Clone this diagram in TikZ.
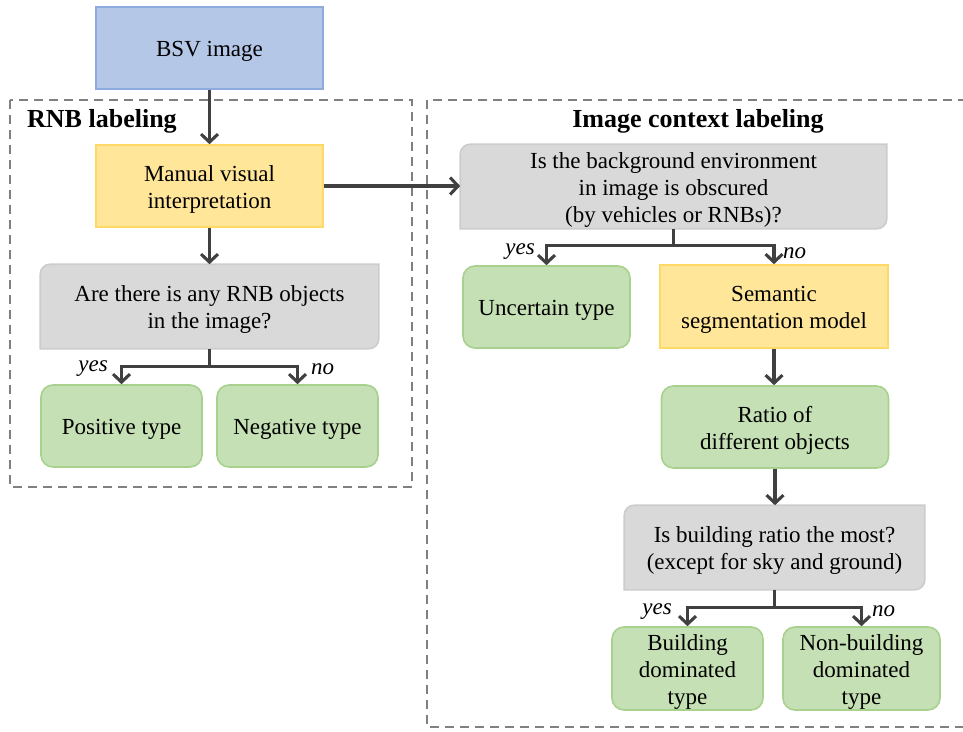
\documentclass[tikz,border=0pt]{standalone}
\usepackage{fontspec}
\setmainfont{Liberation Serif}
\usetikzlibrary{arrows.meta,backgrounds,calc}
\definecolor{bfill}{HTML}{B4C7E7}
\definecolor{bdraw}{HTML}{8FAADC}
\definecolor{yfill}{HTML}{FFE699}
\definecolor{ydraw}{HTML}{FFD966}
\definecolor{gfill}{HTML}{C5E0B4}
\definecolor{gdraw}{HTML}{A9D18E}
\definecolor{qfill}{HTML}{D9D9D9}
\definecolor{qdraw}{HTML}{CCCCCC}
\definecolor{cline}{HTML}{404040}
\definecolor{dline}{HTML}{808080}
\newcommand\graycard[1]{%
  \begin{pgfonlayer}{background}
    \draw[qshape] (#1.south west) -- ([yshift=-10pt]#1.north west)
      arc[start angle=180,end angle=90,radius=10pt] -- (#1.north east)
      -- ([yshift=10pt]#1.south east)
      arc[start angle=0,end angle=-90,radius=10pt] -- cycle;
  \end{pgfonlayer}}
\newcommand\bxt[1]{\raisebox{-3.5pt}[\height][\depth]{\begin{tabular}{@{}c@{}}#1\end{tabular}}}
\begin{document}
\begin{tikzpicture}[x=1pt,y=1pt,
  base/.style={line width=1.6pt, align=center, inner sep=0pt,
    font=\fontsize{23}{27}\selectfont},
  bluebox/.style={base, draw=bdraw, fill=bfill},
  yellowbox/.style={base, draw=ydraw, fill=yfill},
  greenbox/.style={base, draw=gdraw, fill=gfill, rounded corners=12pt},
  qbox/.style={base, draw=none},
  qshape/.style={line width=1.6pt, draw=qdraw, fill=qfill},
  title/.style={inner sep=0pt, font=\fontsize{26}{30}\selectfont\bfseries},
  lab/.style={inner sep=0pt, font=\fontsize{23}{27}\selectfont\itshape},
  conn/.style={draw=cline, line width=3.1pt,
    -{Straight Barb[length=8pt,width=17pt]}},
  plain/.style={draw=cline, line width=3.1pt},
  group/.style={draw=dline, line width=1.8pt, dash pattern=on 9pt off 6pt}
]
\clip (0,0) rectangle (963,-731);
% group frames
\draw[group] (10,-100) rectangle (412,-487);
\draw[group] (427,-100) rectangle (985,-727);
\node[title, anchor=west] (t1) at (27,-121) {RNB labeling};
\node[title] (t2) at (698,-121) {Image context labeling};

% left column
\node[bluebox, minimum width=227pt, minimum height=82pt] (bsv) at (209.5,-48) {\bxt{BSV image}};
\node[yellowbox, minimum width=227pt, minimum height=82pt] (man) at (209.5,-186) {\bxt{Manual visual\\interpretation}};
\node[qbox, minimum width=337pt, minimum height=83pt] (q1) at (209.5,-306.5) {\bxt{Are there is any RNB objects\\in the image?}};
\graycard{q1}
\node[greenbox, minimum width=161pt, minimum height=82pt] (pos) at (121.5,-426) {\bxt{Positive type}};
\node[greenbox, minimum width=161pt, minimum height=82pt] (neg) at (297.5,-426) {\bxt{Negative type}};

% right column
\node[qbox, minimum width=425pt, minimum height=83pt] (q2) at (673.5,-186.5) {\bxt{Is the background environment\\in image is obscured\\(by vehicles or RNBs)?}};
\graycard{q2}
\node[greenbox, minimum width=167pt, minimum height=82pt] (unc) at (546.5,-307) {\bxt{Uncertain type}};
\node[yellowbox, minimum width=228pt, minimum height=83pt] (sem) at (774,-306.5) {\bxt{Semantic\\segmentation model}};
\node[greenbox, minimum width=227pt, minimum height=82pt] (rat) at (775,-427) {\bxt{Ratio of\\different objects}};
\node[qbox, minimum width=299pt, minimum height=83pt] (q3) at (774.5,-547.5) {\bxt{Is building ratio the most?\\(except for sky and ground)}};
\graycard{q3}
\node[greenbox, minimum width=151pt, minimum height=83pt] (bld) at (687.5,-668.5) {\bxt{Building\\dominated\\type}};
\node[greenbox, minimum width=157pt, minimum height=83pt] (nbld) at (861.5,-668.5) {\bxt{Non-building\\dominated\\type}};

% connectors
\draw[conn] (bsv) -- (man);
\draw[conn] (man) -- (q1);
\draw[conn] (man.east) -- (man.east -| q2.west);
\draw[plain] (q1.south) -- ++(0,-18) coordinate (b1);
\draw[conn] (b1) -| (pos.north);
\draw[conn] (b1) -| (neg.north);
\draw[plain] (q2.south) -- ++(0,-17) coordinate (b2);
\draw[conn] (b2) -| (unc.north);
\draw[conn] (b2) -| (sem.north);
\draw[conn] (sem.south) -- (sem.south |- rat.north);
\draw[conn] (rat.south) -- (rat.south |- q3.north);
\draw[plain] (q3.south) -- ++(0,-18) coordinate (b3);
\draw[conn] (b3) -| (bld.north);
\draw[conn] (b3) -| (nbld.north);

% branch labels
\node[lab, anchor=east] (y1) at (108,-369) {yes};
\node[lab, anchor=west] (n1) at (311,-369) {no};
\node[lab, anchor=east] (y2) at (535,-252) {yes};
\node[lab, anchor=west] (n2) at (783,-253) {no};
\node[lab, anchor=east] (y3) at (672,-612) {yes};
\node[lab, anchor=west] (n3) at (872,-611) {no};
\end{tikzpicture}
\end{document}
